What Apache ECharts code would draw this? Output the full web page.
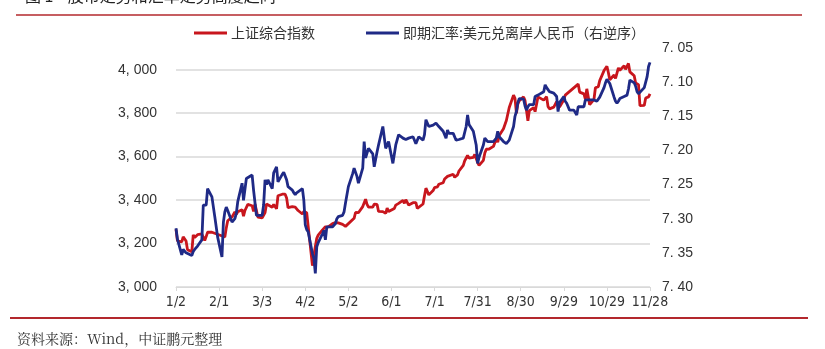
<!DOCTYPE html>
<html>
<head>
<meta charset="utf-8">
<script src="https://cdn.jsdelivr.net/npm/echarts@6/dist/echarts.min.js"></script>
<style>
  html, body { margin: 0; padding: 0; background: #fff; }
  #chart { width: 825px; height: 349px; }
</style>
</head>
<body>
<div id="chart"></div>
<script>
// Shanghai Composite close (2025, trading days)
const sseDates = ['01-02','01-03','01-06','01-07','01-08','01-09','01-10','01-13','01-14','01-15','01-16','01-17','01-20','01-21','01-22','01-23','01-24','01-27',
  '02-05','02-06','02-07','02-10','02-11','02-12','02-13','02-14','02-17','02-18','02-19','02-20','02-21','02-24','02-25','02-26','02-27','02-28',
  '03-03','03-04','03-05','03-06','03-07','03-10','03-11','03-12','03-13','03-14','03-17','03-18','03-19','03-20','03-21','03-24','03-25','03-26','03-27','03-28','03-31',
  '04-01','04-02','04-03','04-07','04-08','04-09','04-10','04-11','04-14','04-15','04-16','04-17','04-18','04-21','04-22','04-23','04-24','04-25','04-28','04-29','04-30',
  '05-06','05-07','05-08','05-09','05-12','05-13','05-14','05-15','05-16','05-19','05-20','05-21','05-22','05-23','05-26','05-27','05-28','05-29','05-30',
  '06-03','06-04','06-05','06-06','06-09','06-10','06-11','06-12','06-13','06-16','06-17','06-18','06-19','06-20','06-23','06-24','06-25','06-26','06-27','06-30',
  '07-01','07-02','07-03','07-04','07-07','07-08','07-09','07-10','07-11','07-14','07-15','07-16','07-17','07-18','07-21','07-22','07-23','07-24','07-25','07-28','07-29','07-30','07-31',
  '08-01','08-04','08-05','08-06','08-07','08-08','08-11','08-12','08-13','08-14','08-15','08-18','08-19','08-20','08-21','08-22','08-25','08-26','08-27','08-28','08-29',
  '09-01','09-02','09-03','09-04','09-05','09-08','09-09','09-10','09-11','09-12','09-15','09-16','09-17','09-18','09-19','09-22','09-23','09-24','09-25','09-26','09-29','09-30',
  '10-09','10-10','10-13','10-14','10-15','10-16','10-17','10-20','10-21','10-22','10-23','10-24','10-27','10-28','10-29','10-30','10-31',
  '11-03','11-04','11-05','11-06','11-07','11-10','11-11','11-12','11-13','11-14','11-17','11-18','11-19','11-20','11-21','11-24','11-25','11-26','11-27','11-28'];
const sseValues = [3265,3212,3208,3231,3228,3212,3172,3162,3240,3228,3236,3241,3244,3243,3214,3232,3252,3252,
  3230,3272,3305,3322,3318,3345,3334,3346,3356,3326,3352,3352,3380,3374,3348,3382,3390,3322,
  3318,3325,3343,3382,3374,3367,3380,3372,3360,3420,3427,3430,3427,3410,3365,3370,3370,3368,3374,3352,3336,
  3348,3350,3342,3098,3146,3186,3224,3239,3263,3268,3277,3280,3277,3292,3300,3296,3297,3295,3288,3286,3279,
  3316,3343,3352,3342,3370,3374,3404,3380,3368,3368,3381,3388,3380,3348,3347,3340,3339,3363,3347,
  3361,3377,3384,3385,3399,3385,3402,3403,3377,3388,3387,3388,3362,3360,3382,3420,3455,3448,3424,3444,
  3457,3454,3461,3473,3480,3497,3493,3509,3510,3519,3505,3503,3516,3534,3560,3581,3582,3605,3593,3597,3610,3616,3573,
  3560,3583,3617,3634,3639,3635,3647,3665,3683,3666,3697,3728,3727,3766,3771,3826,3883,3868,3800,3843,3858,
  3875,3858,3813,3765,3812,3826,3807,3812,3875,3870,3860,3861,3876,3831,3820,3828,3822,3853,3853,3828,3862,3883,
  3934,3897,3889,3865,3912,3916,3839,3864,3917,3914,3922,3950,3996,3988,4016,3987,3954,
  3976,3960,3969,4008,3998,4018,4002,4000,4029,3990,3972,3939,3946,3931,3835,3836,3870,3864,3875,3889];

// Spot USD/CNH
const fxDates = ['01-02','01-03','01-06','01-07','01-08','01-09','01-10','01-13','01-14','01-15','01-16','01-17','01-20','01-21','01-22','01-23','01-24','01-27','01-29','01-31',
  '02-03','02-04','02-05','02-06','02-07','02-10','02-11','02-12','02-13','02-14','02-17','02-18','02-20','02-24','02-25','02-26','02-27','02-28',
  '03-03','03-04','03-05','03-06','03-07','03-10','03-11','03-13','03-14','03-17','03-18','03-19','03-20','03-21','03-24','03-25','03-26','03-27','03-28','03-31',
  '04-01','04-02','04-03','04-04','04-07','04-08','04-09','04-10','04-11','04-14','04-15','04-16','04-17','04-18','04-21','04-22','04-23','04-24','04-25','04-28','04-29','04-30',
  '05-02','05-05','05-06','05-07','05-08','05-09','05-12','05-13','05-14','05-16','05-19','05-20','05-22','05-23','05-26','05-28','05-30',
  '06-02','06-04','06-06','06-09','06-11','06-13','06-16','06-18','06-20','06-23','06-24','06-25','06-27','06-30',
  '07-02','07-04','07-07','07-09','07-10','07-11','07-14','07-16','07-18','07-21','07-23','07-24','07-25','07-28','07-30','07-31',
  '08-01','08-04','08-05','08-07','08-08','08-11','08-13','08-14','08-15','08-18','08-20','08-21','08-22','08-25','08-26','08-27','08-28','08-29',
  '09-01','09-02','09-03','09-04','09-05','09-08','09-09','09-10','09-11','09-12','09-15','09-16','09-17','09-18','09-19','09-22','09-24','09-25','09-26','09-29','09-30',
  '10-01','10-02','10-03','10-06','10-08','10-09','10-10','10-13','10-14','10-15','10-17','10-20','10-21','10-22','10-23','10-24','10-27','10-28','10-29','10-30','10-31',
  '11-03','11-04','11-05','11-06','11-07','11-10','11-11','11-12','11-13','11-14','11-17','11-18','11-19','11-20','11-21','11-24','11-25','11-26','11-27','11-28'];
const fxValues = [7.314,7.330,7.353,7.345,7.347,7.350,7.351,7.354,7.348,7.345,7.343,7.340,7.331,7.280,7.282,7.280,7.256,7.268,7.297,7.327,
  7.356,7.305,7.290,7.283,7.288,7.305,7.305,7.300,7.292,7.275,7.248,7.273,7.241,7.236,7.258,7.258,7.295,7.293,
  7.295,7.280,7.243,7.250,7.243,7.256,7.233,7.224,7.246,7.235,7.232,7.233,7.243,7.253,7.258,7.262,7.265,7.262,7.260,7.256,
  7.273,7.309,7.316,7.319,7.351,7.358,7.380,7.341,7.335,7.322,7.317,7.331,7.312,7.312,7.312,7.310,7.307,7.300,7.297,7.295,7.290,7.277,
  7.253,7.234,7.226,7.224,7.238,7.248,7.226,7.187,7.211,7.197,7.205,7.224,7.202,7.192,7.165,7.197,7.187,
  7.219,7.192,7.177,7.182,7.184,7.182,7.180,7.190,7.180,7.185,7.177,7.155,7.165,7.163,
  7.160,7.165,7.172,7.182,7.170,7.175,7.175,7.185,7.184,7.182,7.165,7.148,7.162,7.172,7.192,7.219,
  7.210,7.192,7.182,7.187,7.185,7.187,7.182,7.172,7.180,7.187,7.190,7.192,7.185,7.165,7.150,7.143,7.130,7.124,
  7.125,7.135,7.141,7.136,7.133,7.133,7.121,7.121,7.119,7.119,7.114,7.104,7.108,7.111,7.114,7.116,7.121,7.143,7.130,7.121,7.128,
  7.131,7.133,7.141,7.141,7.148,7.136,7.136,7.136,7.126,7.126,7.126,7.126,7.124,7.128,7.126,7.122,7.108,7.101,7.096,7.094,7.102,
  7.122,7.128,7.131,7.128,7.124,7.121,7.119,7.119,7.110,7.097,7.101,7.106,7.114,7.117,7.119,7.108,7.100,7.092,7.077,7.071];

const leftTicks = { min: 3000, max: 4100, step: 200 };
const rightTicks = { min: 7.05, max: 7.40, step: 0.05 };
const dayStart = 0, dayEnd = 330, dayStep = 30;

const RED = '#c8161d';
const BLUE = '#1f2a86';
const RULE = '#b3282d';

const origin = Date.UTC(2025, 0, 2);
function dayOf(s) {
  const [m, d] = s.split('-').map(Number);
  return (Date.UTC(2025, m - 1, d) - origin) / 86400000;
}
function dayLabel(v) {
  const t = new Date(origin + v * 86400000);
  return (t.getUTCMonth() + 1) + '/' + t.getUTCDate();
}
function thousands(v) {
  const s = String(Math.round(v));
  return s.length > 3 ? s.slice(0, -3) + ', ' + s.slice(-3) : s;
}

const sseData = sseDates.map((d, i) => [dayOf(d), sseValues[i]]);
const fxData = fxDates.map((d, i) => [dayOf(d), fxValues[i]]);

const chart = echarts.init(document.getElementById('chart'), null, { renderer: 'canvas' });
chart.setOption({
  animation: false,
  backgroundColor: '#fff',
  textStyle: { fontFamily: '"Liberation Sans", Arial, sans-serif' },
  legend: {
    left: 189,
    top: 21,
    itemWidth: 33,
    itemHeight: 3,
    itemGap: 51,
    icon: 'rect',
    textStyle: { fontSize: 14, color: '#333', fontFamily: '"Noto Sans CJK SC", sans-serif', padding: [0, 0, 0, -1] },
    data: ['上证综合指数', '即期汇率:美元兑离岸人民币（右逆序）']
  },
  grid: { left: 176, right: 175, top: 48, bottom: 62 },
  xAxis: {
    type: 'value',
    min: dayStart,
    max: dayEnd,
    interval: dayStep,
    axisLine: { show: true, lineStyle: { color: '#d9d9d9', width: 1 } },
    axisTick: { show: true, length: 4, lineStyle: { color: '#d9d9d9' } },
    splitLine: { show: false },
    axisLabel: {
      formatter: dayLabel,
      margin: 8,
      fontSize: 14,
      color: '#333',
      fontFamily: '"Liberation Sans Narrow", "DejaVu Sans Condensed", sans-serif'
    }
  },
  yAxis: [
    {
      type: 'value',
      min: leftTicks.min,
      max: leftTicks.max,
      interval: leftTicks.step,
      position: 'left',
      axisLine: { show: false },
      axisTick: { show: false },
      splitLine: { show: true, showMaxLine: false, lineStyle: { color: '#d9d9d9', width: 1.5 } },
      axisLabel: { showMaxLabel: false, formatter: thousands, margin: 19, fontSize: 14, color: '#333' }
    },
    {
      type: 'value',
      inverse: true,
      min: rightTicks.min,
      max: rightTicks.max,
      interval: rightTicks.step,
      position: 'right',
      axisLine: { show: false },
      axisTick: { show: false },
      splitLine: { show: false },
      axisLabel: {
        margin: 12,
        fontSize: 14,
        color: '#333',
        formatter: v => v.toFixed(2).replace('.', '. ')
      }
    }
  ],
  series: [
    {
      name: '上证综合指数',
      type: 'line',
      yAxisIndex: 0,
      data: sseData,
      showSymbol: false,
      color: RED,
      lineStyle: { color: RED, width: 2.8 }
    },
    {
      name: '即期汇率:美元兑离岸人民币（右逆序）',
      type: 'line',
      yAxisIndex: 1,
      data: fxData,
      showSymbol: false,
      color: BLUE,
      lineStyle: { color: BLUE, width: 2.8 }
    }
  ],
  graphic: [
    {
      type: 'text', x: 25, y: 4,
      style: { text: '图 1    股市走势和汇率走势高度趋同', font: '16px "Noto Sans CJK SC"', fill: '#222', verticalAlign: 'bottom' }
    },
    { type: 'line', shape: { x1: 16, y1: 15, x2: 802, y2: 15 }, style: { stroke: RULE, lineWidth: 1.5 } },
    { type: 'line', shape: { x1: 10, y1: 318, x2: 808, y2: 318 }, style: { stroke: RULE, lineWidth: 2 } },
    {
      type: 'text', x: 17, y: 339,
      style: { text: '资料来源：Wind，中证鹏元整理', font: '14px "Noto Serif CJK SC", "Noto Sans CJK SC"', fill: '#333', verticalAlign: 'middle' }
    }
  ]
});
</script>
</body>
</html>
